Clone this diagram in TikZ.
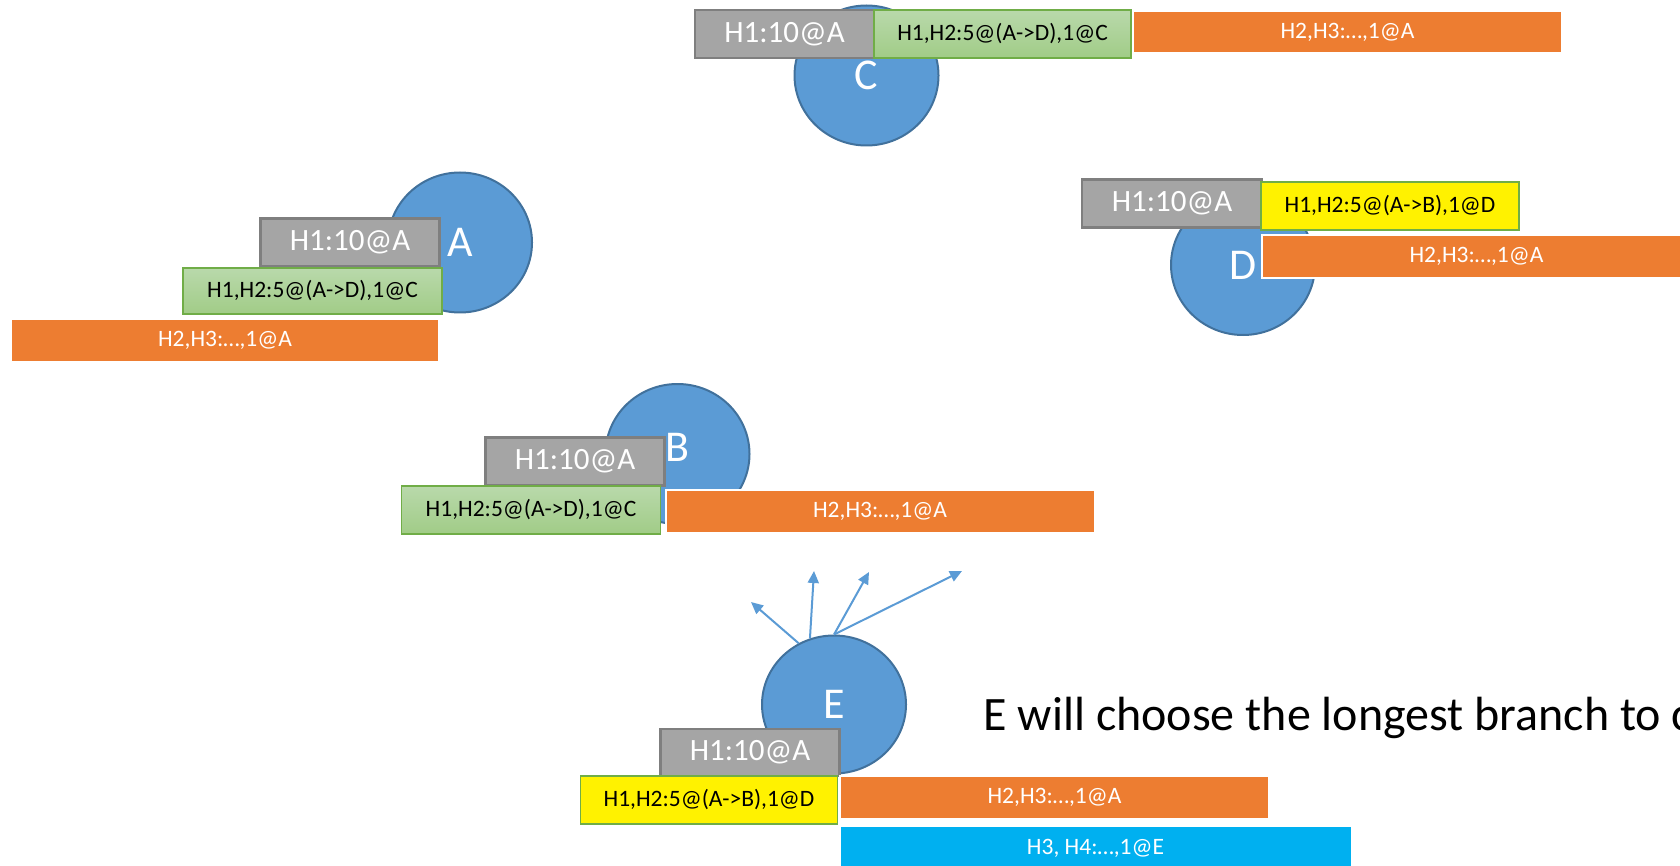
\documentclass[tikz,border=0pt]{standalone}
\usepackage{fontspec}
\setmainfont{Carlito}
\usetikzlibrary{shapes.geometric,arrows.meta}

\definecolor{nodeblue}{HTML}{5B9BD5}
\definecolor{nodeedge}{HTML}{41719C}
\definecolor{grayfill}{HTML}{A5A5A5}
\definecolor{grayedge}{HTML}{7F7F7F}
\definecolor{greentop}{HTML}{B9D9AB}
\definecolor{greenbot}{HTML}{A1CC87}
\definecolor{greenedge}{HTML}{70AD47}
\definecolor{orangefill}{HTML}{ED7D31}
\definecolor{cyanfill}{HTML}{00B0F0}

\tikzset{
  peer/.style={ellipse, fill=nodeblue, draw=nodeedge, line width=2pt,
    minimum width=144pt, minimum height=140pt, inner sep=0pt,
    text=white, font=\fontsize{44}{50}\selectfont},
  headbox/.style={rectangle, fill=grayfill, draw=grayedge, line width=2.5pt,
    minimum width=179pt, minimum height=48pt, inner sep=0pt,
    text=white, font=\fontsize{31}{36}\selectfont},
  forkbox/.style={rectangle, top color=greentop, bottom color=greenbot,
    draw=greenedge, line width=1.5pt, minimum width=258pt, minimum height=47pt,
    inner sep=0pt, text=black, font=\fontsize{23.5}{28}\selectfont},
  picked/.style={rectangle, fill=yellow, draw=greenedge, line width=1.5pt,
    minimum width=258pt, minimum height=48pt, inner sep=0pt,
    text=black, font=\fontsize{23.5}{28}\selectfont},
  chainbox/.style={rectangle, fill=orangefill, draw=white, line width=2pt,
    minimum width=429pt, minimum height=43pt, inner sep=0pt,
    text=white, font=\fontsize{23.5}{28}\selectfont},
  newbox/.style={rectangle, fill=cyanfill, draw=white, line width=1pt,
    minimum width=511pt, minimum height=43pt, inner sep=0pt,
    text=white, font=\fontsize{23.5}{28}\selectfont},
  gossip/.style={draw=nodeblue, line width=2pt, -{Triangle[length=12pt,width=11pt]}}
}

\begin{document}
\begin{tikzpicture}[x=1pt, y=-1pt]
  \useasboundingbox (0,0) rectangle (1680,866);
  \clip (0,0) rectangle (1680,866);

  % peer A
  \node[peer] (A) at (460,242.5) {A};
  \node[headbox] (Ah) at (350,242.5) {H1:10@A};
  \node[forkbox, minimum width=259pt, minimum height=46pt] (Af) at (312.5,291) {H1,H2:5@(A->D),1@C};
  \node[chainbox, minimum width=428pt] (Ac) at (225,340.5) {H2,H3:…,1@A};

  % peer C
  \node[peer] (C) at (866.5,75.5) {C};
  \node[headbox] (Ch) at (784.5,34) {H1:10@A};
  \node[forkbox, minimum width=257pt, minimum height=48pt] (Cf) at (1002.5,34) {H1,H2:5@(A->D),1@C};
  \node[chainbox, minimum height=42pt] (Cc) at (1347.5,32) {H2,H3:…,1@A};

  % peer D
  \node[peer] (D) at (1243,265) {D};
  \node[headbox, minimum width=180pt] (Dh) at (1172,203.5) {H1:10@A};
  \node[picked] (Dp) at (1390,206) {H1,H2:5@(A->B),1@D};
  \node[chainbox] (Dc) at (1476.5,256.5) {H2,H3:…,1@A};

  % peer B
  \node[peer] (B) at (677.5,454) {\raisebox{13pt}{B}};
  \node[headbox] (Bh) at (575,461.5) {H1:10@A};
  \node[forkbox, minimum width=259pt, minimum height=48pt] (Bf) at (531,510) {H1,H2:5@(A->D),1@C};
  \node[chainbox] (Bc) at (880,511.5) {H2,H3:…,1@A};

  % peer E and its outgoing announcements
  \node[peer, minimum height=138pt] (E) at (834,704.5) {E};
  \coordinate (t1) at (751,602);
  \coordinate (t2) at (814,571);
  \coordinate (t3) at (869,572);
  \coordinate (t4) at (962,571);
  \draw[gossip] (E.120) -- (t1);
  \draw[gossip] (E.110) -- (t2);
  \draw[gossip] (E.90) -- (t3);
  \draw[gossip] (E.90) -- (t4);
  \node[headbox, minimum height=47pt] (Eh) at (750,752.5) {H1:10@A};
  \node[picked, minimum width=257pt] (Ep) at (709,800) {H1,H2:5@(A->B),1@D};
  \node[chainbox] (Ec) at (1054.5,797.5) {H2,H3:…,1@A};
  \node[newbox] (En) at (1095.5,848) {H3, H4:…,1@E};

  \node[anchor=base west, inner sep=0pt, font=\fontsize{48}{57}\selectfont] (note)
    at (983.5,730) {E will choose the longest branch to c};
\end{tikzpicture}
\end{document}
